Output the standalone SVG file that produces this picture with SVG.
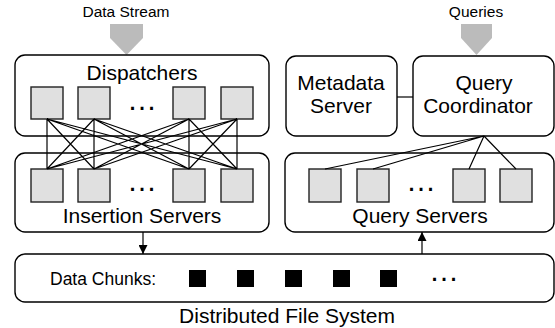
<svg xmlns="http://www.w3.org/2000/svg" width="555" height="328" viewBox="0 0 555 328">
<defs>
<style>
.box{fill:#fff;stroke:#000;stroke-width:1.4}
.sq{fill:#e0e0e0;stroke:#222;stroke-width:1.4}
.blk{fill:#000}
.lbl{font-family:"Liberation Sans",Arial,sans-serif;font-size:21px;fill:#000;text-anchor:middle}
.sm{font-family:"Liberation Sans",Arial,sans-serif;font-size:15.5px;fill:#000;text-anchor:middle}
.dots{font-family:"Liberation Sans",Arial,sans-serif;font-size:30px;fill:#000;text-anchor:middle}
.ln{stroke:#000;stroke-width:1.2;fill:none}
.in{fill:#bbb}
</style>
<marker id="ah" viewBox="0 0 10 10" refX="10" refY="5" markerWidth="9" markerHeight="9" markerUnits="userSpaceOnUse" orient="auto"><path d="M0,0L10,5L0,10z" fill="#000"/></marker>
</defs>
<g id="input-data-stream">
<text class="sm" x="126" y="17">Data Stream</text>
<polygon class="in" points="110,24 143,24 143,38 126.5,55 110,38"/>
</g>
<g id="input-queries">
<text class="sm" x="476" y="17">Queries</text>
<polygon class="in" points="461,24 492,24 492,38 476.5,55 461,38"/>
</g>
<g id="dispatchers">
<rect class="box" x="15" y="55" width="254" height="81" rx="10"/>
<text class="lbl" x="142" y="80">Dispatchers</text>
<rect class="sq" x="31" y="87" width="32" height="32"/>
<rect class="sq" x="78" y="87" width="32" height="32"/>
<rect class="sq" x="173" y="87" width="32" height="32"/>
<rect class="sq" x="221" y="87" width="32" height="32"/>
<text class="dots" x="142" y="110">…</text>
</g>
<g id="metadata-server">
<rect class="box" x="286" y="56" width="111" height="80" rx="10"/>
<text class="lbl" x="341" y="90">Metadata</text>
<text class="lbl" x="341" y="113">Server</text>
</g>
<g id="query-coordinator">
<rect class="box" x="413" y="56" width="141" height="80" rx="10"/>
<text class="lbl" x="484" y="90">Query</text>
<text class="lbl" x="478" y="113">Coordinator</text>
</g>
<g id="insertion-servers">
<rect class="box" x="15" y="153" width="254" height="79" rx="10"/>
<rect class="sq" x="31" y="169" width="32" height="33"/>
<rect class="sq" x="78" y="169" width="32" height="33"/>
<rect class="sq" x="173" y="169" width="32" height="33"/>
<rect class="sq" x="221" y="169" width="32" height="33"/>
<text class="dots" x="142" y="191">…</text>
<text class="lbl" x="142" y="223">Insertion Servers</text>
</g>
<g id="query-servers">
<rect class="box" x="285" y="153" width="269" height="79" rx="10"/>
<rect class="sq" x="309" y="169" width="32" height="33"/>
<rect class="sq" x="357" y="169" width="32" height="33"/>
<rect class="sq" x="453" y="169" width="32" height="33"/>
<rect class="sq" x="500" y="169" width="32" height="33"/>
<text class="dots" x="421" y="191">…</text>
<text class="lbl" x="420" y="223">Query Servers</text>
</g>
<g id="data-chunks">
<rect class="box" x="15" y="254" width="539" height="48" rx="10"/>
<text x="50" y="285" style="font-family:'Liberation Sans',Arial,sans-serif;font-size:17.5px">Data Chunks:</text>
<rect class="blk" x="189" y="270" width="17" height="17"/>
<rect class="blk" x="237" y="270" width="17" height="17"/>
<rect class="blk" x="285" y="270" width="17" height="17"/>
<rect class="blk" x="333" y="270" width="17" height="17"/>
<rect class="blk" x="380" y="270" width="17" height="17"/>
<text class="dots" x="444" y="281">…</text>
</g>
<g id="distributed-file-system">
<text class="lbl" x="287" y="323">Distributed File System</text>
</g>
<g id="connectors">
<path class="ln" d="M47,119L47,169M47,119L94,169M47,119L189,169M47,119L237,169
M94,119L47,169M94,119L94,169M94,119L189,169M94,119L237,169
M189,119L47,169M189,119L94,169M189,119L189,169M189,119L237,169
M237,119L47,169M237,119L94,169M237,119L189,169M237,119L237,169"/>
<path class="ln" d="M484,136L325,169M484,136L373,169M484,136L469,169M484,136L516,169"/>
<path class="ln" d="M397,97L413,97"/>
<path class="ln" d="M143,232L143,254" marker-end="url(#ah)"/>
<path class="ln" d="M422,254L422,232" marker-end="url(#ah)"/>
</g>
</svg>
